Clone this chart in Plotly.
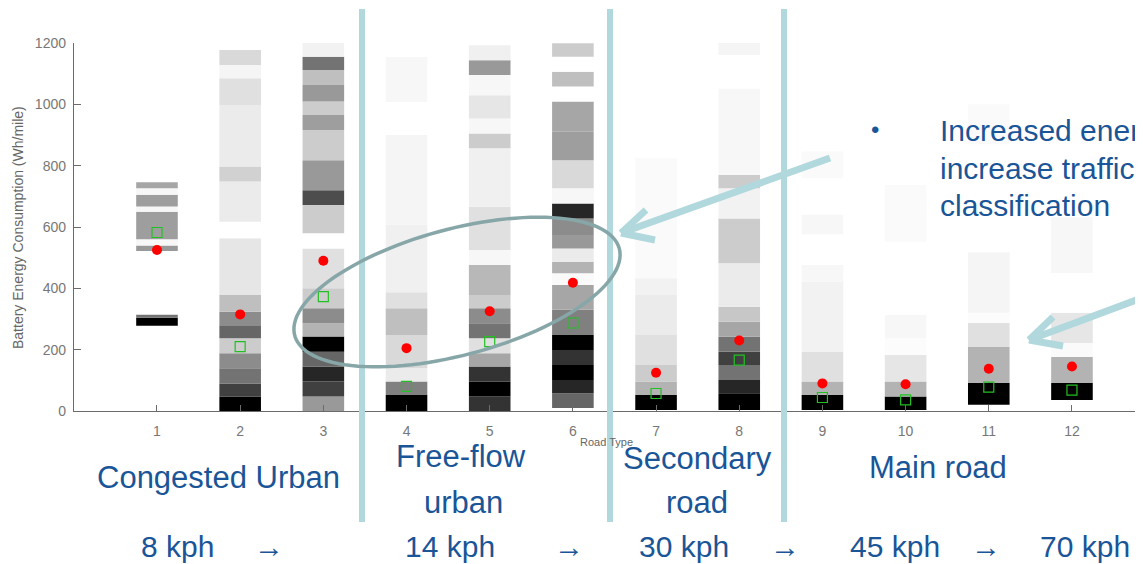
import numpy as np
import plotly.graph_objects as go

# the page body adds an 8px margin; the figure is sized/positioned to compensate
OFF = 8
W, H = 1143 - OFF, 564 - OFF

road_types = list(range(1, 13))
tick_labels = [str(i) for i in road_types]
y_ticks = [0, 200, 400, 600, 800, 1000, 1200]

# band edges (Wh/mile) and darkness (0 = white, 1 = black) per road type
edges_1 = [278, 304, 315, 522, 540, 560, 650, 667, 705, 726, 746]
shade_1 = [1.0, 0.55, 0.0, 0.4, 0.03, 0.38, 0.03, 0.38, 0.03, 0.35]
edges_2 = [0, 47, 90, 139, 188, 237, 280, 324, 378, 563, 617, 748, 797, 998, 1085, 1128, 1177]
shade_2 = [1.0, 0.75, 0.55, 0.45, 0.2, 0.6, 0.45, 0.25, 0.1, 0.0, 0.08, 0.18, 0.08, 0.12, 0.04, 0.15]
edges_3 = [0, 47, 96, 145, 193, 243, 286, 335, 400, 530, 580, 672, 720, 818, 916, 965, 1009, 1063, 1112, 1155, 1200]
shade_3 = [0.4, 0.75, 0.85, 0.6, 1.0, 0.3, 0.45, 0.2, 0.12, 0.0, 0.2, 0.7, 0.4, 0.2, 0.38, 0.2, 0.4, 0.25, 0.55, 0.05]
edges_4 = [0, 52, 96, 139, 248, 335, 387, 608, 900, 1008, 1154]
shade_4 = [1.0, 0.5, 0.08, 0.15, 0.25, 0.12, 0.06, 0.04, 0.0, 0.03]
edges_5 = [0, 47, 96, 145, 188, 237, 286, 335, 378, 476, 525, 666, 857, 905, 954, 1030, 1096, 1144, 1193]
shade_5 = [0.8, 1.0, 0.8, 0.35, 0.12, 0.55, 0.45, 0.2, 0.28, 0.03, 0.12, 0.06, 0.2, 0.03, 0.1, 0.03, 0.4, 0.06]
edges_6 = [10, 58, 101, 150, 199, 248, 330, 411, 449, 487, 530, 574, 628, 677, 726, 818, 911, 1009, 1058, 1106, 1155, 1199]
shade_6 = [0.6, 0.85, 1.0, 0.8, 1.0, 0.5, 0.35, 0.02, 0.3, 0.08, 0.4, 0.45, 0.85, 0.03, 0.15, 0.38, 0.35, 0.0, 0.25, 0.0, 0.2]
edges_7 = [3, 52, 96, 150, 248, 378, 433, 824]
shade_7 = [1.0, 0.3, 0.2, 0.12, 0.08, 0.05, 0.02]
edges_8 = [3, 58, 101, 150, 193, 242, 291, 340, 482, 628, 726, 770, 1052, 1161, 1204]
shade_8 = [1.0, 0.85, 0.55, 0.75, 0.55, 0.35, 0.22, 0.08, 0.2, 0.05, 0.2, 0.03, 0.0, 0.04]
edges_9 = [3, 52, 96, 193, 422, 476, 576, 641, 759, 846]
shade_9 = [1.0, 0.3, 0.12, 0.05, 0.03, 0.0, 0.03, 0.0, 0.02]
edges_10 = [3, 47, 96, 183, 237, 313, 552, 737]
shade_10 = [1.0, 0.3, 0.1, 0.01, 0.03, 0.0, 0.02]
edges_11 = [20, 91, 209, 287, 320, 518, 870, 1000]
shade_11 = [1.0, 0.3, 0.12, 0.01, 0.04, 0.0, 0.02]
edges_12 = [36, 91, 176, 222, 320, 450, 632]
shade_12 = [1.0, 0.3, 0.02, 0.1, 0.0, 0.03]

mean_energy = [525, 315, 490, 205, 325, 418, 125, 230, 90, 87, 138, 145]
median_energy = [582, 210, 373, 80, 226, 287, 57, 166, 44, 36, 78, 68]

all_edges = [edges_1, edges_2, edges_3, edges_4, edges_5, edges_6,
             edges_7, edges_8, edges_9, edges_10, edges_11, edges_12]
all_shades = [shade_1, shade_2, shade_3, shade_4, shade_5, shade_6,
              shade_7, shade_8, shade_9, shade_10, shade_11, shade_12]

bx, bbase, bh, bc = [], [], [], []
for rt, ed, sh in zip(road_types, all_edges, all_shades):
    for j, s in enumerate(sh):
        bx.append(rt)
        bbase.append(ed[j])
        bh.append(ed[j + 1] - ed[j])
        bc.append(s)

blue = "#1a5597"
teal = "#b1d8dc"
axis_gray = "#6b6b6b"
font_fam = "Liberation Sans, Arial, sans-serif"

fig = go.Figure()
fig.add_trace(go.Bar(
    x=bx, y=bh, base=bbase, width=0.5,
    marker=dict(color=bc, colorscale=[[0, "#ffffff"], [1, "#000000"]],
                cmin=0, cmax=1, line=dict(width=0)),
    showlegend=False, hoverinfo="skip"))
fig.add_trace(go.Scatter(
    x=road_types, y=median_energy, mode="markers",
    marker=dict(symbol="square-open", size=10, color="#22c022", line=dict(width=1.2)),
    showlegend=False))
fig.add_trace(go.Scatter(
    x=road_types, y=mean_energy, mode="markers",
    marker=dict(symbol="circle", size=10, color="#ff0000"),
    showlegend=False))


def px(x):
    return (x - OFF) / W


def py(y):
    return 1 - (y - OFF) / H


x_left_px = 73.8
unit_px = 83.18
x_max = (1143 - x_left_px) / unit_px

fig.update_layout(
    width=W, height=H,
    margin=dict(l=0, r=0, t=0, b=0),
    paper_bgcolor="white", plot_bgcolor="white",
    barmode="overlay",
    font=dict(family=font_fam),
    xaxis=dict(domain=[px(x_left_px), 1], range=[0, x_max],
               tickmode="array", tickvals=road_types, ticktext=tick_labels,
               ticks="inside", ticklen=6, tickcolor=axis_gray,
               showline=True, linecolor=axis_gray, linewidth=1,
               showgrid=False, zeroline=False, automargin=False,
               tickfont=dict(size=14, color="#777777"), ticklabelstandoff=7),
    yaxis=dict(domain=[py(411), py(43)], range=[0, 1200],
               tickmode="array", tickvals=y_ticks,
               ticks="inside", ticklen=7, tickcolor=axis_gray,
               showline=True, linecolor=axis_gray, linewidth=1,
               showgrid=False, zeroline=False, automargin=False,
               tickfont=dict(size=14, color="#777777"), ticklabelstandoff=4),
)

shapes = []
# vertical separators
for xv in [362, 610, 784]:
    shapes.append(dict(type="line", xref="paper", yref="paper",
                       x0=px(xv), x1=px(xv), y0=py(9), y1=py(522),
                       line=dict(color=teal, width=6)))
# arrows (line + open V head)
arrows = [((830, 158), (621, 233), (646, 210), (655, 240)),
          ((1150, 295), (1029, 340), (1053, 317), (1063, 346))]
for start, tip, w1, w2 in arrows:
    for p0 in (start, w1, w2):
        shapes.append(dict(type="line", xref="paper", yref="paper",
                           x0=px(p0[0]), y0=py(p0[1]), x1=px(tip[0]), y1=py(tip[1]),
                           line=dict(color=teal, width=7)))
# ellipse
cx, cy, a, b, ang = 457, 292, 168, 63, np.deg2rad(15)
t = np.linspace(0, 2 * np.pi, 120)
ex = cx + a * np.cos(t) * np.cos(ang) + b * np.sin(t) * np.sin(ang)
ey = cy - a * np.cos(t) * np.sin(ang) + b * np.sin(t) * np.cos(ang)
path = "M " + " L ".join(f"{px(u):.5f},{py(v):.5f}" for u, v in zip(ex, ey)) + " Z"
shapes.append(dict(type="path", xref="paper", yref="paper", path=path,
                   line=dict(color="#87a6a8", width=3.5)))
fig.update_layout(shapes=shapes)

ann = []


def txt(s, x, y, size=31, color=blue, xanchor="center"):
    ann.append(dict(text=s, x=px(x), y=py(y), xref="paper", yref="paper",
                    xanchor=xanchor, yanchor="middle", showarrow=False,
                    font=dict(size=size, color=color, family=font_fam)))


# axis titles
ann.append(dict(text="Battery Energy Consumption (Wh/mile)", x=px(18), y=py(228),
                xref="paper", yref="paper", textangle=-90, showarrow=False,
                xanchor="center", yanchor="middle",
                font=dict(size=14, color="#666666", family=font_fam)))
txt("Road Type", 606, 442, size=11, color="#666666")

# region labels
txt("Congested Urban", 218, 477)
txt("Free-flow", 461, 456)
txt("urban", 463, 502)
txt("Secondary", 697, 458)
txt("road", 697, 502)
txt("Main road", 938, 467)

# speeds
for s, x in [("8 kph", 177), ("<b>→</b>", 269), ("14 kph", 450), ("<b>→</b>", 569),
             ("30 kph", 684), ("<b>→</b>", 785), ("45 kph", 895), ("<b>→</b>", 986),
             ("70 kph", 1085)]:
    txt(s, x, 546, size=30)

# callout text
txt("•", 875, 130, size=24)
txt("Increased energy", 938, 131, size=30, xanchor="left")
txt("increase traffic", 938, 168, size=30, xanchor="left")
txt("classification", 938, 205, size=30, xanchor="left")

fig.update_layout(annotations=ann)

fig.write_html("out.html")
